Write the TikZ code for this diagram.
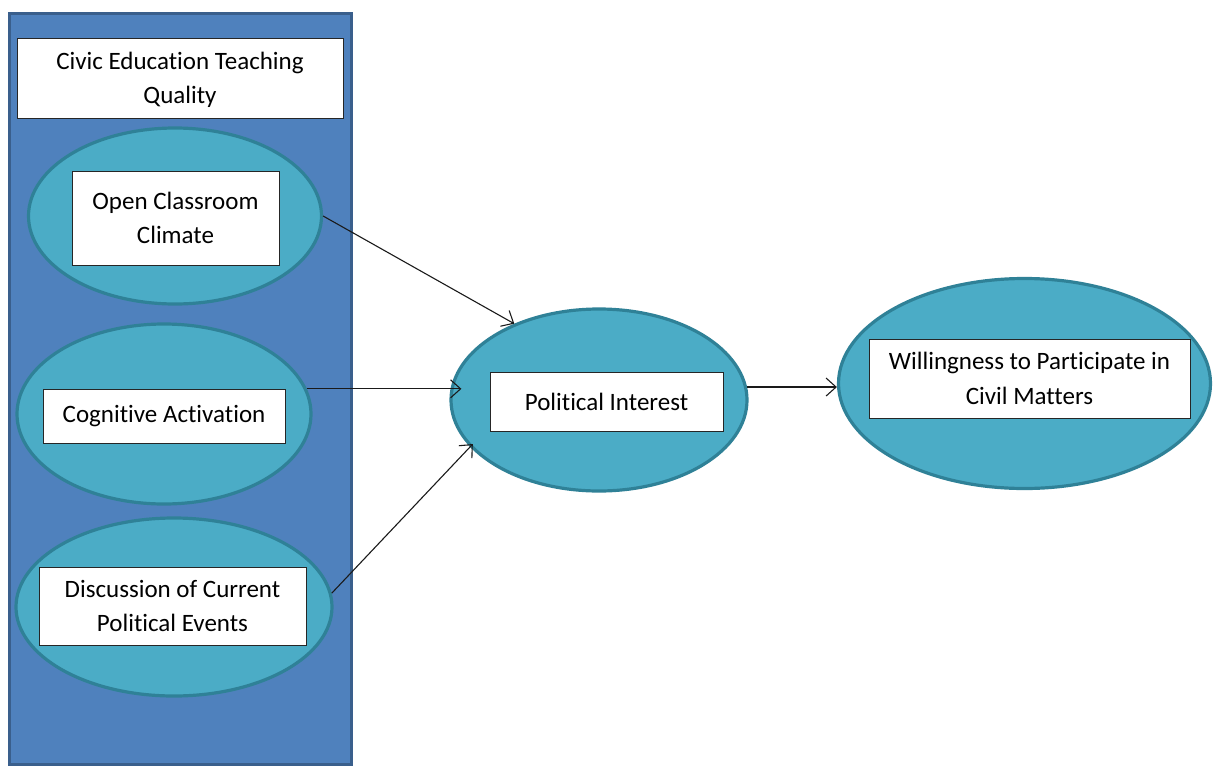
\documentclass[tikz,border=0pt]{standalone}
\usepackage{fontspec}
\setmainfont{Carlito}[Ligatures=NoCommon]
\usetikzlibrary{shapes.geometric,arrows.meta}
\definecolor{panelfill}{HTML}{4F81BD}
\definecolor{paneldraw}{HTML}{3A5F8C}
\definecolor{ellfill}{HTML}{4BACC6}
\definecolor{elldraw}{HTML}{2F8197}
\definecolor{arrcol}{HTML}{1A1A1A}
\tikzset{
  panel/.style={rectangle, fill=panelfill, draw=paneldraw, line width=3pt, inner sep=0pt},
  oval/.style={ellipse, fill=ellfill, draw=elldraw, line width=3.2pt, inner sep=0pt},
  labelbox/.style={rectangle, fill=white, draw=black!85, line width=1pt, inner sep=0pt, align=center,
    font=\fontsize{25}{34.5}\selectfont},
  arr/.style={draw=arrcol, line width=1.1pt, -{Straight Barb[length=10pt,width=18pt,line width=1.1pt]}}
}
\begin{document}
\begin{tikzpicture}[x=1pt,y=-1pt]
\useasboundingbox (0,0) rectangle (1213,766);
% left panel
\node[panel, minimum width=342pt, minimum height=751pt] (panel) at (180,388.5) {};
\node[labelbox, minimum width=326pt, minimum height=80pt, text depth=-7pt] (title) at (180,78) {Civic Education Teaching\\Quality};
% ellipses
\node[oval, minimum width=293pt, minimum height=176pt] (e1) at (175,216) {};
\node[oval, minimum width=294pt, minimum height=180pt] (e2) at (164,414) {};
\node[oval, minimum width=316pt, minimum height=178pt] (e3) at (174,607) {};
\node[oval, minimum width=296pt, minimum height=182pt] (pi) at (599,400) {};
\node[oval, minimum width=372pt, minimum height=210pt] (wi) at (1024.5,383.5) {};
% label boxes
\node[labelbox, minimum width=207pt, minimum height=94pt] (b1) at (175.5,218) {Open Classroom\\Climate};
\node[labelbox, minimum width=242pt, minimum height=54pt] (b2) at (164,416) {Cognitive Activation};
\node[labelbox, minimum width=267pt, minimum height=78pt] (b3) at (172.5,606) {Discussion of Current\\Political Events};
\node[labelbox, minimum width=233pt, minimum height=59pt] (b4) at (606.5,401.5) {Political Interest};
\node[labelbox, minimum width=321pt, minimum height=79pt] (b5) at (1029.5,378.5) {Willingness to Participate in\\Civil Matters};
% connectors
\draw[arr] (e1.east) -- (pi.138);
\draw[arr, shorten >=-12pt] (e2.10) -- (e2.10 -| pi.west);
\draw[arr, shorten >=-4pt] (e3.5) -- (pi.200);
\draw[arr] (pi.5) -- (pi.5 -| wi.west);
\end{tikzpicture}
\end{document}
